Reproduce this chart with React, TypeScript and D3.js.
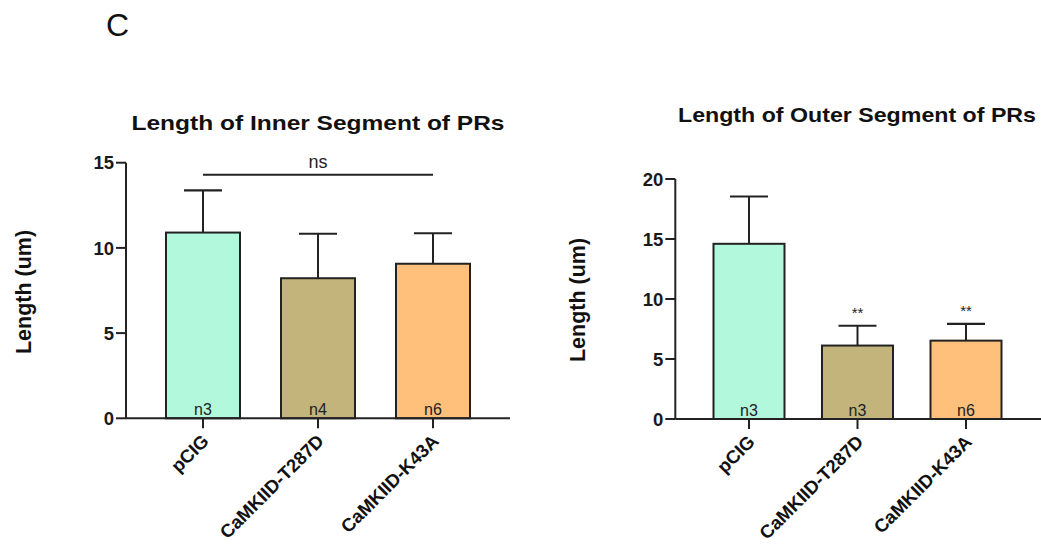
import React from 'react';
import * as d3 from 'd3';

const categories = ['pCIG', 'CaMKIID-T287D', 'CaMKIID-K43A'];
const barColors = ['#b1f8dd', '#c3b47c', '#fec07b'];

// inner segment panel
const innerMeans = [10.9, 8.22, 9.07];
const innerErrors = [2.48, 2.61, 1.79];
const innerN = ['n3', 'n4', 'n6'];
const innerTicks = [0, 5, 10, 15];

// outer segment panel
const outerMeans = [14.6, 6.12, 6.53];
const outerErrors = [3.94, 1.65, 1.4];
const outerN = ['n3', 'n3', 'n6'];
const outerTicks = [0, 5, 10, 15, 20];
const outerStars = ['', '**', '**'];

const FONT = '"Liberation Sans", Arial, sans-serif';
const INK = '#222';

interface PanelProps {
  title: string;
  titleX: number;
  titleY: number;
  titleWidth: number;
  means: number[];
  errors: number[];
  nLabels: string[];
  ticks: number[];
  stars?: string[];
  ns?: boolean;
  axisX: number;
  axisEnd: number;
  top: number;
  bottom: number;
  xRange: [number, number];
  barWidth: number;
  yLabelX: number;
  yLabelY: number;
}

const Panel: React.FC<PanelProps> = ({
  title, titleX, titleY, titleWidth, means, errors, nLabels, ticks, stars, ns,
  axisX, axisEnd, top, bottom, xRange, barWidth, yLabelX, yLabelY,
}) => {
  const yMax = ticks[ticks.length - 1];
  const y = d3.scaleLinear().domain([0, yMax]).range([bottom, top]);
  const x = d3.scalePoint<string>().domain(categories).range(xRange).padding(0.5);
  const capHalf = 19;

  return (
    <g fontFamily={FONT}>
      <text x={titleX} y={titleY} textAnchor="middle" fontWeight="bold" fontSize={21}
        textLength={titleWidth} lengthAdjust="spacingAndGlyphs" fill="#111">{title}</text>

      <text transform={`translate(${yLabelX},${yLabelY}) rotate(-90)`} textAnchor="middle"
        dominantBaseline="central" fontWeight="bold" fontSize={21.5} fill="#111">Length (um)</text>

      {/* bars */}
      {categories.map((c, i) => {
        const cx = x(c)!;
        const yTop = y(means[i]);
        const yErr = y(means[i] + errors[i]);
        return (
          <g key={c}>
            <line x1={cx} x2={cx} y1={yTop} y2={yErr} stroke={INK} strokeWidth={2} />
            <line x1={cx - capHalf} x2={cx + capHalf} y1={yErr} y2={yErr} stroke={INK} strokeWidth={2.2} />
            <rect x={cx - barWidth / 2} y={yTop} width={barWidth} height={bottom - yTop}
              fill={barColors[i]} stroke={INK} strokeWidth={2} />
            <text x={cx} y={bottom - 3.5} textAnchor="middle" fontSize={16} fill="#222">{nLabels[i]}</text>
            {stars && stars[i] && (
              <text x={cx} y={yErr - 8} textAnchor="middle" fontSize={15} fill="#222">{stars[i]}</text>
            )}
          </g>
        );
      })}

      {/* y axis */}
      <line x1={axisX} x2={axisX} y1={y(yMax)} y2={bottom} stroke={INK} strokeWidth={2} />
      {ticks.map(t => (
        <g key={t}>
          <line x1={axisX - 10} x2={axisX} y1={y(t)} y2={y(t)} stroke={INK} strokeWidth={2} />
          <text x={axisX - 12} y={y(t)} dy="0.36em" textAnchor="end" fontWeight="bold" fontSize={18.5} fill="#1a1a1a">{t}</text>
        </g>
      ))}

      {/* x axis */}
      <line x1={axisX} x2={axisEnd} y1={bottom} y2={bottom} stroke={INK} strokeWidth={2} />
      {categories.map(c => {
        const cx = x(c)!;
        return (
          <g key={c}>
            <line x1={cx} x2={cx} y1={bottom} y2={bottom + 10} stroke={INK} strokeWidth={2} />
            <text transform={`translate(${cx + 7},${bottom + 24}) rotate(-45)`} textAnchor="end"
              fontWeight="bold" fontSize={18.5} fill="#111">{c}</text>
          </g>
        );
      })}

      {ns && (
        <g>
          <line x1={x(categories[0])} x2={x(categories[2])} y1={174.7} y2={174.7} stroke={INK} strokeWidth={2} />
          <text x={(x(categories[0])! + x(categories[2])!) / 2} y={168} textAnchor="middle" fontSize={18} fill="#222">ns</text>
        </g>
      )}
    </g>
  );
};

export default function App() {
  return (
    <svg width={1041} height={548} style={{ position: 'absolute', left: 0, top: 0, background: '#fff' }}>
      <text x={106} y={36} fontFamily={FONT} fontSize={32} fill="#111">C</text>
      <Panel
        title="Length of Inner Segment of PRs" titleX={318} titleY={130} titleWidth={373}
        means={innerMeans} errors={innerErrors} nLabels={innerN} ticks={innerTicks} ns
        axisX={126} axisEnd={510} top={162.7} bottom={418.3} xRange={[145.5, 490.5]} barWidth={74}
        yLabelX={24} yLabelY={292}
      />
      <Panel
        title="Length of Outer Segment of PRs" titleX={857} titleY={122} titleWidth={358}
        means={outerMeans} errors={outerErrors} nLabels={outerN} ticks={outerTicks} stars={outerStars}
        axisX={675.3} axisEnd={1041} top={179} bottom={419} xRange={[694.75, 1020.25]} barWidth={71}
        yLabelX={578} yLabelY={300}
      />
    </svg>
  );
}
